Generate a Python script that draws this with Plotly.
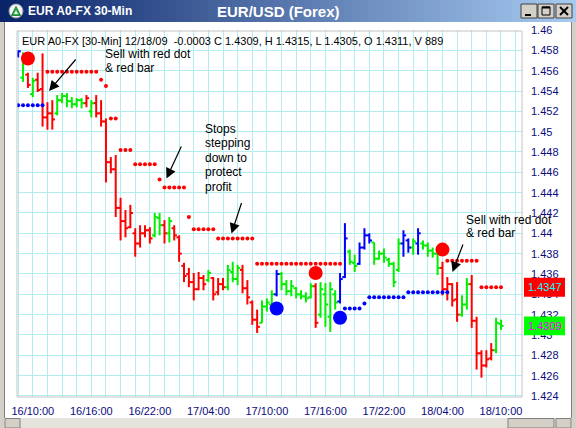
import plotly.graph_objects as go

# ---------------------------------------------------------------- data
tick_positions = [3, 15, 27, 39, 51, 63, 75, 87, 99]
tick_labels = ["16/10:00", "16/16:00", "16/22:00", "17/04:00", "17/10:00",
               "17/16:00", "17/22:00", "18/04:00", "18/10:00"]

price_ticks = [1.424, 1.426, 1.428, 1.430, 1.432, 1.434, 1.436, 1.438, 1.440,
               1.442, 1.444, 1.446, 1.448, 1.450, 1.452, 1.454, 1.456, 1.458, 1.460]
price_tick_text = ["1.424", "1.426", "1.428", "1.43", "1.432", "1.434", "1.436",
                   "1.438", "1.44", "1.442", "1.444", "1.446", "1.448", "1.45",
                   "1.452", "1.454", "1.456", "1.458", "1.46"]

# trend colour of each 30-min bar: b = buy, g = up, r = down
trend = ["b", "g", "r", "g", "r", "r", "r", "r", "g", "g",
         "g", "g", "g", "g", "r", "g", "r", "r", "r", "r",
         "r", "r", "r", "r", "r", "r", "r", "r", "g", "g",
         "r", "g", "r", "r", "r", "r", "r", "r", "r", "g",
         "r", "r", "r", "g", "g", "g", "r", "r", "r", "r",
         "g", "g", "g", "b", "g", "g", "g", "g", "g", "g",
         "g", "r", "g", "g", "g", "g", "b", "b", "g", "g",
         "b", "b", "b", "g", "g", "g", "g", "g", "g", "b",
         "b", "g", "b", "g", "g", "g", "g", "r", "r", "r",
         "r", "g", "g", "r", "r", "r", "r", "r", "g", "g"]

high = [1.4580, 1.4578, 1.4558, 1.4553, 1.4558, 1.4577, 1.4529, 1.4531, 1.4536, 1.4538,
        1.4538, 1.4534, 1.4533, 1.4533, 1.4536, 1.4531, 1.4536, 1.4531, 1.4513, 1.4475,
        1.4477, 1.4435, 1.4423, 1.4428, 1.4405, 1.4408, 1.4408, 1.4406, 1.4420, 1.4420,
        1.4413, 1.4416, 1.4408, 1.4398, 1.4371, 1.4366, 1.4361, 1.4362, 1.4359, 1.4364,
        1.4357, 1.4356, 1.4356, 1.4369, 1.4372, 1.4369, 1.4369, 1.4354, 1.4334, 1.4325,
        1.4334, 1.4336, 1.4344, 1.4364, 1.4362, 1.4354, 1.4354, 1.4347, 1.4344, 1.4342,
        1.4351, 1.4351, 1.4352, 1.4351, 1.4352, 1.4344, 1.4361, 1.4410, 1.4384, 1.4379,
        1.4391, 1.4405, 1.4400, 1.4391, 1.4383, 1.4385, 1.4376, 1.4372, 1.4395, 1.4403,
        1.4395, 1.4395, 1.4405, 1.4393, 1.4391, 1.4386, 1.4381, 1.4372, 1.4357, 1.4351,
        1.4352, 1.4339, 1.4356, 1.4359, 1.4318, 1.4285, 1.4285, 1.4292, 1.4317, 1.4315]

low = [1.4573, 1.4549, 1.4543, 1.4534, 1.4539, 1.4505, 1.4502, 1.4502, 1.4516, 1.4528,
       1.4524, 1.4523, 1.4524, 1.4523, 1.4524, 1.4514, 1.4514, 1.4505, 1.4450, 1.4459,
       1.4416, 1.4393, 1.4396, 1.4405, 1.4377, 1.4386, 1.4396, 1.4390, 1.4396, 1.4398,
       1.4390, 1.4391, 1.4393, 1.4372, 1.4352, 1.4347, 1.4334, 1.4344, 1.4344, 1.4352,
       1.4334, 1.4339, 1.4344, 1.4344, 1.4352, 1.4349, 1.4341, 1.4330, 1.4310, 1.4302,
       1.4312, 1.4323, 1.4325, 1.4338, 1.4344, 1.4339, 1.4338, 1.4336, 1.4335, 1.4332,
       1.4336, 1.4307, 1.4317, 1.4308, 1.4303, 1.4325, 1.4331, 1.4356, 1.4369, 1.4362,
       1.4369, 1.4384, 1.4390, 1.4369, 1.4374, 1.4371, 1.4367, 1.4347, 1.4362, 1.4377,
       1.4381, 1.4379, 1.4379, 1.4384, 1.4377, 1.4376, 1.4359, 1.4339, 1.4334, 1.4328,
       1.4313, 1.4318, 1.4325, 1.4307, 1.4266, 1.4258, 1.4268, 1.4275, 1.4282, 1.4305]

open_ = [1.4576, 1.4553, 1.4556, 1.4537, 1.4551, 1.4542, 1.4514, 1.4518, 1.4518, 1.4531,
         1.4535, 1.4530, 1.4527, 1.4531, 1.4528, 1.4520, 1.4528, 1.4518, 1.4510, 1.4470,
         1.4463, 1.4425, 1.4412, 1.4406, 1.4400, 1.4390, 1.4400, 1.4403, 1.4398, 1.4415,
         1.4408, 1.4400, 1.4405, 1.4396, 1.4368, 1.4360, 1.4352, 1.4345, 1.4356, 1.4354,
         1.4356, 1.4342, 1.4350, 1.4347, 1.4362, 1.4355, 1.4364, 1.4346, 1.4332, 1.4315,
         1.4312, 1.4328, 1.4330, 1.4340, 1.4360, 1.4350, 1.4343, 1.4346, 1.4340, 1.4338,
         1.4337, 1.4348, 1.4320, 1.4340, 1.4318, 1.4340, 1.4333, 1.4357, 1.4382, 1.4371,
         1.4370, 1.4386, 1.4398, 1.4391, 1.4375, 1.4380, 1.4374, 1.4370, 1.4364, 1.4390,
         1.4393, 1.4386, 1.4390, 1.4390, 1.4388, 1.4383, 1.4380, 1.4366, 1.4345, 1.4350,
         1.4335, 1.4320, 1.4330, 1.4350, 1.4314, 1.4282, 1.4270, 1.4277, 1.4285, 1.4311]

close = [1.4579, 1.4571, 1.4546, 1.4550, 1.4541, 1.4514, 1.4518, 1.4512, 1.4531, 1.4535,
         1.4530, 1.4527, 1.4531, 1.4528, 1.4533, 1.4528, 1.4518, 1.4510, 1.4470, 1.4463,
         1.4425, 1.4412, 1.4405, 1.4420, 1.4390, 1.4400, 1.4403, 1.4395, 1.4416, 1.4408,
         1.4400, 1.4412, 1.4398, 1.4380, 1.4358, 1.4352, 1.4345, 1.4356, 1.4350, 1.4361,
         1.4340, 1.4350, 1.4347, 1.4364, 1.4355, 1.4366, 1.4346, 1.4337, 1.4315, 1.4308,
         1.4328, 1.4332, 1.4340, 1.4360, 1.4350, 1.4343, 1.4348, 1.4340, 1.4338, 1.4336,
         1.4348, 1.4312, 1.4345, 1.4330, 1.4345, 1.4332, 1.4355, 1.4395, 1.4372, 1.4368,
         1.4386, 1.4398, 1.4393, 1.4375, 1.4380, 1.4376, 1.4370, 1.4352, 1.4390, 1.4398,
         1.4386, 1.4392, 1.4400, 1.4388, 1.4383, 1.4380, 1.4366, 1.4345, 1.4350, 1.4334,
         1.4320, 1.4330, 1.4350, 1.4314, 1.4282, 1.4270, 1.4276, 1.4285, 1.4312, 1.4309]

# trailing stop levels: (first bar, last bar, level)
red_stops = [(6, 16, 1.4559), (17, 17, 1.4551), (18, 18, 1.4545), (19, 20, 1.4513),
             (21, 23, 1.4482), (24, 28, 1.4468), (29, 29, 1.4453), (30, 34, 1.4445),
             (35, 35, 1.4416), (36, 40, 1.4404), (41, 48, 1.4395), (49, 66, 1.4370),
             (88, 94, 1.4373), (95, 99, 1.4347)]
blue_stops = [(0, 5, 1.4526), (67, 70, 1.4326), (71, 71, 1.4331),
              (72, 79, 1.4337), (80, 88, 1.4342)]

# entry signals: bar and price of the large dots
sell_bars = [2, 61, 87]
sell_prices = [1.4572, 1.4361, 1.4384]
buy_bars = [53, 66]
buy_prices = [1.4326, 1.4317]

last_stop = 1.4347
last_close = 1.4309
header = ("EUR A0-FX [30-Min] 12/18/09  -0.0003 C 1.4309, H 1.4315, "
          "L 1.4305, O 1.4311, V 889")

# ---------------------------------------------------------------- style
W, H = 576, 428
PL, PR, PT, PB = 17, 522, 30, 397
Y_RANGE = [1.4239, 1.4600]
FONT = "Liberation Sans, Arial, sans-serif"
GRID = "#b2eef0"
NAVY = "#0a0a80"
COL = {"r": "#ff0000", "g": "#00ee00", "b": "#0000ff"}
TICK = 0.55


def px(x):
    return (x - PL) / (PR - PL)


def py(y):
    return (PB - y) / (PB - PT)


fig = go.Figure()

# OHLC bars, one line trace per trend colour
for key in ["r", "g", "b"]:
    xs, ys = [], []
    for i, t in enumerate(trend):
        if t != key:
            continue
        xs += [i, i, None, i - TICK, i, None, i, i + TICK, None]
        ys += [low[i], high[i], None, open_[i], open_[i], None, close[i], close[i], None]
    fig.add_trace(go.Scatter(x=xs, y=ys, mode="lines",
                             line=dict(color=COL[key], width=2),
                             hoverinfo="skip", showlegend=False))

# stop dots
for stops, colour in [(red_stops, "#ff0000"), (blue_stops, "#0000ff")]:
    sx, sy = [], []
    for a, b, lvl in stops:
        for i in range(a, b + 1):
            sx.append(i)
            sy.append(lvl)
    fig.add_trace(go.Scatter(x=sx, y=sy, mode="markers",
                             marker=dict(color=colour, size=4, line=dict(width=0)),
                             hoverinfo="skip", showlegend=False))

# signal dots
fig.add_trace(go.Scatter(x=sell_bars, y=sell_prices, mode="markers",
                         marker=dict(color="#ff0000", size=14, line=dict(width=0)),
                         hoverinfo="skip", showlegend=False))
fig.add_trace(go.Scatter(x=buy_bars, y=buy_prices, mode="markers",
                         marker=dict(color="#0000ff", size=14, line=dict(width=0)),
                         hoverinfo="skip", showlegend=False))

shapes = []
annotations = []

# plot frame
shapes.append(dict(type="rect", xref="paper", yref="paper", x0=0, x1=1, y0=0, y1=py(31),
                   line=dict(color="#c4c4c4", width=1), layer="above"))

# title bar gradient
n = 72
c0, c1 = (10, 36, 106), (166, 202, 240)
for k in range(n):
    f = k / (n - 1)
    c = tuple(round(c0[j] + (c1[j] - c0[j]) * f) for j in range(3))
    shapes.append(dict(type="rect", xref="paper", yref="paper",
                       x0=px(k * W / n), x1=px((k + 1) * W / n + 0.5),
                       y0=py(22), y1=py(0), line=dict(width=0),
                       fillcolor="rgb(%d,%d,%d)" % c, layer="above"))

# window borders
for x0, x1 in [(0, 4), (572, 576)]:
    shapes.append(dict(type="rect", xref="paper", yref="paper", x0=px(x0), x1=px(x1),
                       y0=py(428), y1=py(22), line=dict(width=0),
                       fillcolor="#d4d0c8", layer="above"))
shapes.append(dict(type="line", xref="paper", yref="paper", x0=px(4.5), x1=px(4.5),
                   y0=py(418), y1=py(22), line=dict(color="#808080", width=1), layer="above"))
shapes.append(dict(type="line", xref="paper", yref="paper", x0=px(571.5), x1=px(571.5),
                   y0=py(418), y1=py(22), line=dict(color="#808080", width=1), layer="above"))

# horizontal scrollbar
shapes.append(dict(type="rect", xref="paper", yref="paper", x0=px(4), x1=px(572),
                   y0=py(428), y1=py(418), line=dict(width=0),
                   fillcolor="#e6e3dc", layer="above"))
for x0, x1 in [(5, 20), (508, 554), (556, 571)]:
    shapes.append(dict(type="rect", xref="paper", yref="paper", x0=px(x0), x1=px(x1),
                       y0=py(428), y1=py(418.5), line=dict(color="#808080", width=1),
                       fillcolor="#d4d0c8", layer="above"))

# caption buttons
for x0, x1 in [(521, 537), (538, 554), (556, 572)]:
    shapes.append(dict(type="rect", xref="paper", yref="paper", x0=px(x0), x1=px(x1),
                       y0=py(18), y1=py(4), line=dict(color="#404040", width=1),
                       fillcolor="#d4d0c8", layer="above"))
shapes.append(dict(type="line", xref="paper", yref="paper", x0=px(525), x1=px(531),
                   y0=py(15), y1=py(15), line=dict(color="#000000", width=2), layer="above"))
shapes.append(dict(type="rect", xref="paper", yref="paper", x0=px(542), x1=px(550),
                   y0=py(15), y1=py(7), line=dict(color="#000000", width=1), layer="above"))
shapes.append(dict(type="line", xref="paper", yref="paper", x0=px(542), x1=px(550),
                   y0=py(7.5), y1=py(7.5), line=dict(color="#000000", width=2), layer="above"))
for a, b in [((560, 7), (568, 15)), ((560, 15), (568, 7))]:
    shapes.append(dict(type="line", xref="paper", yref="paper", x0=px(a[0]), x1=px(b[0]),
                       y0=py(a[1]), y1=py(b[1]), line=dict(color="#000000", width=2),
                       layer="above"))

# window icon
shapes.append(dict(type="circle", xref="paper", yref="paper", x0=px(9), x1=px(23),
                   y0=py(18), y1=py(4), line=dict(color="#9aa0a8", width=1),
                   fillcolor="#f4f4f4", layer="above"))
shapes.append(dict(type="path", xref="paper", yref="paper",
                   path="M %f %f L %f %f L %f %f Z" % (px(16), py(6.5), px(20.5), py(15.5),
                                                      px(11.5), py(15.5)),
                   line=dict(color="#208a3a", width=1), fillcolor="#2fae4a", layer="above"))
shapes.append(dict(type="path", xref="paper", yref="paper",
                   path="M %f %f L %f %f L %f %f Z" % (px(16), py(10.5), px(18), py(14),
                                                      px(14), py(14)),
                   line=dict(width=0), fillcolor="#ffffff", layer="above"))

# last-value price tags on the price axis
for val, bg, fg in [(last_stop, "#ff0000", "#00ffff"), (last_close, "#00ff00", "#ff00ff")]:
    shapes.append(dict(type="rect", xref="paper", yref="y", x0=px(524), x1=px(565),
                       y0=val - 0.00093, y1=val + 0.00093, line=dict(width=0),
                       fillcolor=bg, layer="above"))
    annotations.append(dict(xref="paper", yref="y", x=px(544.5), y=val, text="%.4f" % val,
                            showarrow=False, xanchor="center", yanchor="middle",
                            font=dict(family=FONT, size=11, color=fg)))

# title texts
annotations.append(dict(xref="paper", yref="paper", x=px(26), y=py(11), text="<b>EUR A0-FX 30-Min</b>",
                        showarrow=False, xanchor="left", yanchor="middle",
                        font=dict(family=FONT, size=12, color="#ffffff")))
annotations.append(dict(xref="paper", yref="paper", x=px(278), y=py(11), text="<b>EUR/USD (Forex)</b>",
                        showarrow=False, xanchor="center", yanchor="middle",
                        font=dict(family=FONT, size=15, color="#ffffff")))

# header line with the last bar's quote
annotations.append(dict(xref="paper", yref="paper", x=px(20), y=py(41.5), text=header,
                        showarrow=False, xanchor="left", yanchor="middle",
                        font=dict(family=FONT, size=11, color="#000000")))

# comment texts
notes = [("Sell with red dot", 103, 54), ("& red bar", 103, 67.5),
         ("Stops", 203, 128.5), ("stepping", 203, 143), ("down to", 203, 157.5),
         ("protect", 203, 172), ("profit", 203, 186.5),
         ("Sell with red dot", 464, 219.5), ("& red bar", 464, 233)]
for txt, x, y in notes:
    annotations.append(dict(xref="paper", yref="paper", x=px(x), y=py(y), text=txt,
                            showarrow=False, xanchor="left", yanchor="middle",
                            font=dict(family=FONT, size=12, color="#000000")))

# pointer arrows (tail -> tip)
arrows = [((77, 58), (49, 91)), ((182, 145), (166.5, 178.5)),
          ((242, 201.5), (231.5, 233.5)), ((463.5, 243), (452.5, 272))]
for (tx, ty), (hx, hy) in arrows:
    annotations.append(dict(xref="paper", yref="paper", x=px(hx), y=py(hy),
                            ax=tx - hx, ay=ty - hy, text="", showarrow=True,
                            arrowhead=2, arrowsize=1.7, arrowwidth=1.2,
                            arrowcolor="#000000"))

fig.update_layout(
    width=W, height=H,
    margin=dict(l=PL, r=W - PR, t=PT, b=H - PB),
    paper_bgcolor="#ffffff", plot_bgcolor="#ffffff",
    showlegend=False,
    shapes=shapes, annotations=annotations,
    xaxis=dict(range=[-0.24, 103.31], tickvals=tick_positions, ticktext=tick_labels,
               showgrid=True, gridcolor=GRID, gridwidth=1, zeroline=False,
               showline=False, ticks="", ticklabelstandoff=6,
               minor=dict(dtick=3, tick0=0, showgrid=True, gridcolor=GRID, gridwidth=1),
               tickfont=dict(family=FONT, size=11, color=NAVY), fixedrange=True),
    yaxis=dict(range=Y_RANGE, side="right", tickvals=price_ticks,
               ticktext=price_tick_text, showgrid=True, gridcolor=GRID, gridwidth=1,
               zeroline=False, showline=False, ticks="", ticklabelstandoff=8,
               tickfont=dict(family=FONT, size=11, color=NAVY), fixedrange=True),
)

fig.write_html("out.html")
